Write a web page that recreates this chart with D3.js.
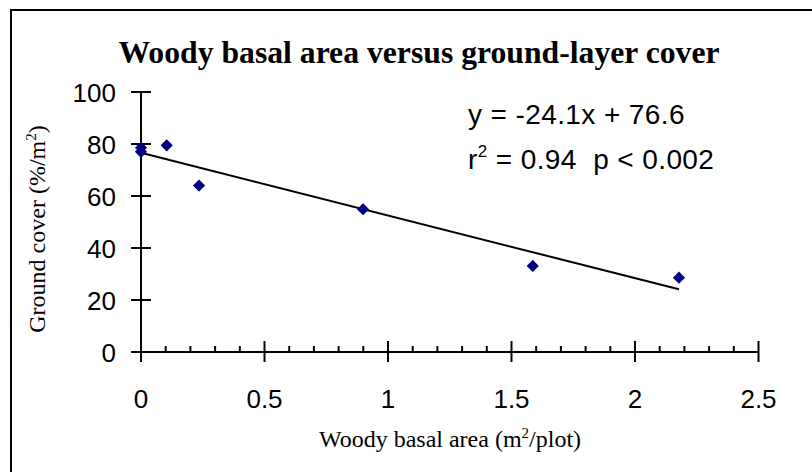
<!DOCTYPE html>
<html>
<head>
<meta charset="utf-8">
<script src="https://cdn.jsdelivr.net/npm/d3@7"></script>
<style>
  html, body { margin: 0; padding: 0; background: #fff; }
  svg { display: block; }
</style>
</head>
<body>
<svg id="chart" width="812" height="472"></svg>
<script>
// Plot data: woody basal area (m²/plot) against ground-layer cover (%/m²)
const basalArea = [0, 0, 0.104, 0.235, 0.899, 1.586, 2.178];
const groundCover = [78.6, 77.0, 79.5, 64.0, 54.9, 33.1, 28.6];

// Least-squares fit shown on the chart
const fitSlope = -24.1;
const fitIntercept = 76.6;
const fitR2 = "0.94";
const fitP = "0.002";

const xTicks = [0, 0.5, 1, 1.5, 2, 2.5];
const xTickLabels = ["0", "0.5", "1", "1.5", "2", "2.5"];
const yTicks = [0, 20, 40, 60, 80, 100];

const svg = d3.select("#chart");
const W = 812, H = 472;

// Outer chart frame
svg.append("rect")
  .attr("x", 11).attr("y", 10)
  .attr("width", W).attr("height", H)
  .attr("fill", "#fff").attr("stroke", "#000").attr("stroke-width", 2);

const x = d3.scaleLinear().domain([0, 2.5]).range([141, 758.5]);
const y = d3.scaleLinear().domain([0, 100]).range([352, 92]);

const serif = "'Liberation Serif', 'Times New Roman', serif";
const sans = "'Liberation Sans', Arial, sans-serif";

// Title
svg.append("text")
  .attr("x", 419).attr("y", 63)
  .attr("text-anchor", "middle")
  .style("font-family", serif).style("font-weight", "bold").style("font-size", "31.7px")
  .text("Woody basal area versus ground-layer cover");

// X axis: major ticks cross the axis line, minor ticks point up into the plot
const xMinor = d3.range(0, 2.5001, 0.1).filter(v => Math.abs(v / 0.5 - Math.round(v / 0.5)) > 1e-6);
const gx = svg.append("g");
gx.append("line")
  .attr("x1", x(0)).attr("x2", x(2.5))
  .attr("y1", y(0)).attr("y2", y(0))
  .attr("stroke", "#000").attr("stroke-width", 2);
gx.selectAll("line.major").data(xTicks).join("line")
  .attr("class", "major")
  .attr("x1", d => x(d)).attr("x2", d => x(d))
  .attr("y1", y(0) - 11).attr("y2", y(0) + 10)
  .attr("stroke", "#000").attr("stroke-width", 2);
gx.selectAll("line.minor").data(xMinor).join("line")
  .attr("class", "minor")
  .attr("x1", d => x(d)).attr("x2", d => x(d))
  .attr("y1", y(0) - 6).attr("y2", y(0))
  .attr("stroke", "#000").attr("stroke-width", 2);
gx.selectAll("text").data(xTicks).join("text")
  .attr("x", d => x(d)).attr("y", 408)
  .attr("text-anchor", "middle")
  .style("font-family", sans).style("font-size", "26px")
  .text((d, i) => xTickLabels[i]);

// Y axis
const gy = svg.append("g");
gy.append("line")
  .attr("x1", x(0)).attr("x2", x(0))
  .attr("y1", y(0)).attr("y2", y(100))
  .attr("stroke", "#000").attr("stroke-width", 2);
gy.selectAll("line.major").data(yTicks).join("line")
  .attr("class", "major")
  .attr("x1", x(0) - 10).attr("x2", x(0) + 10)
  .attr("y1", d => y(d)).attr("y2", d => y(d))
  .attr("stroke", "#000").attr("stroke-width", 2);
gy.selectAll("text").data(yTicks).join("text")
  .attr("x", 116).attr("y", d => y(d) + 10)
  .attr("text-anchor", "end")
  .style("font-family", sans).style("font-size", "26px")
  .text(d => d);

// Axis titles
const xTitle = svg.append("text")
  .attr("x", 450).attr("y", 447)
  .attr("text-anchor", "middle")
  .style("font-family", serif).style("font-size", "24px");
xTitle.append("tspan").text("Woody basal area (m");
xTitle.append("tspan").attr("dy", -9).style("font-size", "15px").text("2");
xTitle.append("tspan").attr("dy", 9).text("/plot)");

const yTitle = svg.append("text")
  .attr("transform", "translate(45,229) rotate(-90)")
  .attr("text-anchor", "middle")
  .style("font-family", serif).style("font-size", "24px");
yTitle.append("tspan").text("Ground cover (%/m");
yTitle.append("tspan").attr("dy", -9).style("font-size", "15px").text("2");
yTitle.append("tspan").attr("dy", 9).text(")");

// Trend line over the range of the data
const xMax = d3.max(basalArea);
svg.append("line")
  .attr("x1", x(0)).attr("y1", y(fitIntercept))
  .attr("x2", x(xMax)).attr("y2", y(fitIntercept + fitSlope * xMax))
  .attr("stroke", "#000").attr("stroke-width", 2);

// Data points as navy diamonds
const diamond = d3.symbol().type(d3.symbolDiamond2).size(95);
svg.selectAll("path.pt").data(basalArea).join("path")
  .attr("class", "pt")
  .attr("d", diamond)
  .attr("transform", (d, i) => `translate(${x(d)},${y(groundCover[i])})`)
  .attr("fill", "#000080");

// Fit annotation
const eq = svg.append("g")
  .style("font-family", sans).style("font-size", "28px")
  .style("letter-spacing", "0.4px");
eq.append("text").attr("x", 468).attr("y", 124)
  .text(`y = ${fitSlope}x + ${fitIntercept}`);
const r2 = eq.append("text").attr("x", 468).attr("y", 169);
r2.append("tspan").text("r");
r2.append("tspan").attr("dy", -12).style("font-size", "17px").text("2");
r2.append("tspan").attr("dy", 12).text(` = ${fitR2}\u00a0\u00a0p < ${fitP}`);
</script>
</body>
</html>
